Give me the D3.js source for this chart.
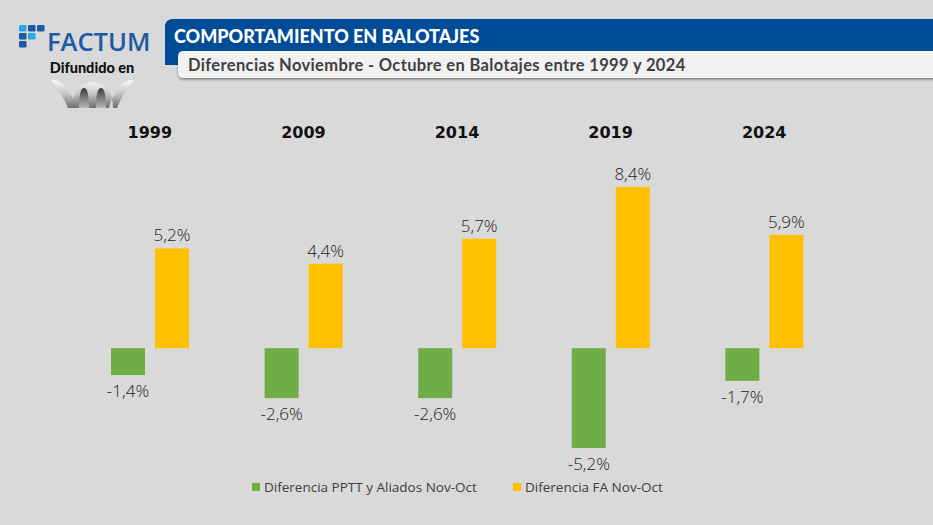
<!DOCTYPE html>
<html><head><meta charset="utf-8">
<script src="https://cdn.jsdelivr.net/npm/d3@7"></script>
<style>
html,body{margin:0;padding:0;background:#d9d9d9;}
svg{display:block;}
</style></head>
<body>
<svg id="c" width="933" height="525"></svg>
<script>
const years = ["1999","2009","2014","2019","2024"];
const seriesNames = ["Diferencia PPTT y Aliados Nov-Oct","Diferencia FA Nov-Oct"];
const pptt = [-1.4,-2.6,-2.6,-5.2,-1.7];
const fa = [5.2,4.4,5.7,8.4,5.9];
const colors = ["#70ad47","#ffc000"];
const title = "COMPORTAMIENTO EN BALOTAJES";
const subtitle = "Diferencias Noviembre - Octubre en Balotajes entre 1999 y 2024";

const svg = d3.select("#c");
svg.append("rect").attr("width",933).attr("height",525).attr("fill","#d9d9d9");

const defs = svg.append("defs");
const sh = defs.append("filter").attr("id","sh").attr("x","-5%").attr("y","-30%").attr("width","110%").attr("height","180%");
sh.append("feDropShadow").attr("dx",0).attr("dy",1.5).attr("stdDeviation",1.2).attr("flood-color","#000").attr("flood-opacity",0.45);
const wg = defs.append("linearGradient").attr("id","wg").attr("x1","0").attr("y1","0").attr("x2","0").attr("y2","1");
wg.append("stop").attr("offset","0").attr("stop-color","#fbfbfb");
wg.append("stop").attr("offset","0.5").attr("stop-color","#c4c4c4");
wg.append("stop").attr("offset","1").attr("stop-color","#6e6e6e");
const hg = defs.append("linearGradient").attr("id","hg").attr("x1","0").attr("y1","0").attr("x2","0").attr("y2","1");
hg.append("stop").attr("offset","0").attr("stop-color","#3c3c3c");
hg.append("stop").attr("offset","1").attr("stop-color","#b8b8b8");

// Header
svg.append("path").attr("d","M165,65 L165,27 Q165,19 173,19 L933,19 L933,65 Z").attr("fill","#004c97");
svg.append("text").attr("x",174).attr("y",42.5).attr("fill","#fff")
  .style("font-family","Lato, 'Open Sans', sans-serif").style("font-weight","900").style("font-size","18px").text(title);
svg.append("rect").attr("x",178).attr("y",51).attr("width",770).attr("height",27).attr("rx",5)
  .attr("fill","#f2f2f2").attr("filter","url(#sh)");
svg.append("text").attr("x",188).attr("y",71).attr("fill","#404040")
  .style("font-family","Lato, 'Open Sans', sans-serif").style("font-weight","700").style("font-size","16.5px")
  .style("letter-spacing","0.35px").text(subtitle);

// Logo
const logo = svg.append("g");
const sq = [[0,0,"#2aa7e8"],[1,0,"#1d5aa6"],[2,0,"#1d5aa6"],[0,1,"#1d5aa6"],[1,1,"#2aa7e8"],[0,2,"#1d5aa6"]];
logo.selectAll("rect.sq").data(sq).join("rect").attr("class","sq")
  .attr("x",d=>19+d[0]*9).attr("y",d=>25+d[1]*8).attr("width",7.5).attr("height",6.5).attr("rx",1.2).attr("fill",d=>d[2]);
logo.append("text").attr("x",47).attr("y",51).attr("fill","#1d5aa6")
  .style("font-family","'Open Sans', Lato, sans-serif").style("font-weight","600").style("font-size","25.5px").text("FACTUM");
logo.append("text").attr("x",92).attr("y",73).attr("text-anchor","middle").attr("fill","#111")
  .style("font-family","Lato, sans-serif").style("font-weight","900").style("font-size","14.5px").text("Difundido en");
logo.append("path").attr("fill","url(#wg)")
  .attr("d","M51,80 Q60,79 67,88 Q74,98 76,108 L68,108 Q62,93 51,80 Z M134,80 Q125,79 118,88 Q111,98 109,108 L117,108 Q123,93 134,80 Z M72,108 Q72,84 92.5,82 Q113,84 113,108 Z");
logo.append("path").attr("fill","url(#hg)")
  .attr("d","M79,108 Q79,88 84,88 Q89,88 89,108 Z M96,108 Q96,88 101,88 Q106,88 106,108 Z");

// Chart
const margin0 = 73, right0 = 841;
const y = d3.scaleLinear().domain([-5.2, 8.4]).range([448, 187]);
const x0 = d3.scaleBand().domain(years).range([margin0, right0]);
const x1 = d3.scaleBand().domain([0,1]).range([38, 116]).paddingInner(10/44).paddingOuter(0);

const data = years.map((yr,i)=>({year:yr, vals:[pptt[i], fa[i]]}));
const fmt = v => d3.format(".1f")(v).replace("\u2212","-").replace(".",",") + "%";

const g = svg.append("g");
const grp = g.selectAll("g.grp").data(data).join("g").attr("class","grp")
  .attr("transform",d=>`translate(${x0(d.year)},0)`);
grp.selectAll("rect").data(d=>d.vals.map((v,k)=>({v,k}))).join("rect")
  .attr("x",d=>x1(d.k)).attr("width",x1.bandwidth())
  .attr("y",d=>Math.min(y(d.v),y(0))).attr("height",d=>Math.abs(y(d.v)-y(0)))
  .attr("fill",d=>colors[d.k]);
grp.selectAll("text.val").data(d=>d.vals.map((v,k)=>({v,k}))).join("text").attr("class","val")
  .attr("x",d=>x1(d.k)+x1.bandwidth()/2)
  .attr("y",d=>d.v>=0 ? y(d.v)-7 : y(d.v)+22)
  .attr("text-anchor","middle").attr("fill","#1e1e1e")
  .style("font-family","'Open Sans', Lato, sans-serif").style("font-weight","300").style("font-size","17px")
  .text(d=>fmt(d.v));
grp.append("text").attr("x",x0.bandwidth()/2).attr("y",138).attr("text-anchor","middle").attr("fill","#111")
  .style("font-family","'DejaVu Sans', sans-serif").style("font-weight","700").style("font-size","16px").text(d=>d.year);

// Legend
const legPos = [252, 513];
const leg = svg.append("g").selectAll("g").data(seriesNames).join("g")
  .attr("transform",(d,i)=>`translate(${legPos[i]},0)`);
leg.append("rect").attr("x",0).attr("y",483).attr("width",8).attr("height",8).attr("fill",(d,i)=>colors[i]);
leg.append("text").attr("x",12).attr("y",492).attr("fill","#404040")
  .style("font-family","'Open Sans', Lato, sans-serif").style("font-size","13.5px").text(d=>d);
</script>
</body></html>
